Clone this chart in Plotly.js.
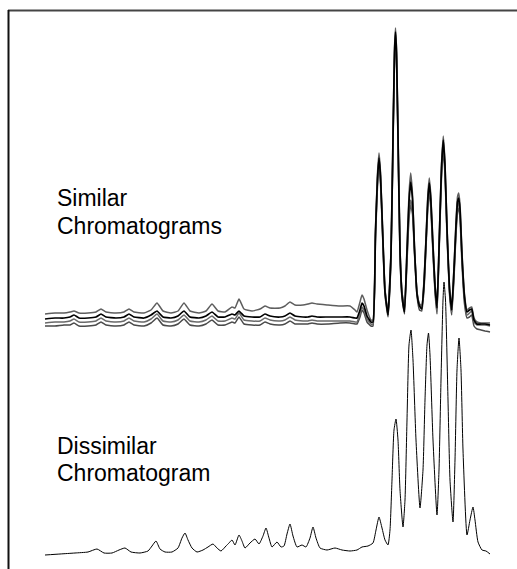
<!DOCTYPE html>
<html>
<head>
<meta charset="utf-8">
<script src="https://cdn.plot.ly/plotly-3.0.1.min.js"></script>
<style>html,body{margin:0;padding:0;background:#fff;}#chart{width:517px;height:569px;}</style>
</head>
<body>
<div id="chart"></div>
<script>
// Retention time (scan) grid shared by the four similar chromatograms
var simTime = [45,55,64,70,74,79,88,96,101,106,116,124,129,134,144,151,157,163,171,178,184,190,199,206,212,218,225,232,235,239,244,252,260,265,270,280,285,290,295,303,308,312,317,328,340,350,355,
357,360,362,364,367,371,
373,375.5,377.5,379,380.5,382.5,385,388,391,393,394.5,395.5,396.5,398,400,402,404.5,407,409,410.7,412.5,414.5,417,419.5,421.7,424,426,427.8,429.3,430.8,433,435,437,439.5,441.5,443.3,445,447,449.5,451.7,454,456,457.5,458.7,460,462,464.5,467,469.5,471.7,474,477,481,485,490];

// Detector response of the similar chromatograms (stacked, offset baseline)
var sim1 = [240,241,241,242,243,241,241,242,245,242,241,242,245,242,241,244,251,243,241,243,251,243,241,243,250,243,242,247,246,255,245,243,245,248,246,246,248,252,249,249,250,251,250,249,248,248,244,
242,252,259,255,244,234,
234,326,381,401,382,329,265,241,304,421,506,526,506,423,307,262,244,308,360,381,360,308,262,250,247,274,317,359,376,359,311,271,251,326,390,418,392,329,268,247,288,333,357,361,350,302,260,244,246,247,236,232,231,231,231];
var sim2 = [235,236,236,237,239,236,236,237,240,237,236,237,240,237,236,239,243,237,236,238,243,237,236,238,242,237,237,240,239,243,238,237,237,240,238,237,238,241,238,237,237,238,237,237,237,237,236,
236,244,251,248,238,232,
232,322,376,396,378,326,262,239,300,416,501,522,502,419,303,259,242,302,352,372,355,305,260,248,245,270,313,354,371,355,307,268,246,322,386,414,388,325,265,244,284,328,352,356,345,298,257,242,244,245,234,230,230,230,229];
var sim3 = [231,232,232,233,235,232,232,233,236,233,232,233,236,233,232,235,240,233,232,234,239,233,232,234,238,233,233,236,235,241,234,233,233,236,234,233,234,237,234,233,233,234,233,233,233,233,232,
232,240,247,244,235,230,
230,320,373,394,376,324,264,242,298,412,498,519,499,416,304,262,246,296,340,354,344,304,262,250,249,268,310,350,366,350,304,265,242,318,381,409,384,322,263,242,280,324,347,351,341,295,255,239,241,243,232,229,229,229,228];
var sim4 = [228,228,229,229,231,228,228,229,232,229,228,229,232,229,228,231,236,229,228,230,235,229,228,230,234,229,229,232,231,237,230,229,229,232,230,229,230,233,230,230,230,231,230,230,231,231,230,
230,237,244,241,232,228,
228,315,368,389,371,320,259,237,294,407,492,514,494,410,298,256,240,292,336,349,340,300,258,244,243,264,306,346,362,346,300,262,240,314,377,404,379,318,260,239,276,320,342,346,336,290,250,236,237,239,228,225,224,223,222];

// Dissimilar chromatogram
var disTime = [45,60,75,88,97,104,112,119,125,131,140,148,152,156,160,165,172,178,182,185,188,192,197,203,208,213,217,221,226,229,232,235,239,242,245,250,255,259,263,266,269,272,277,281,284,287,290,293,297,302,306,310,313,316,320,327,335,342,350,357,362,368,373,376,379,382,385,388,390,392,394,396,398,400,403,405,407,409,411,413,416,420,423,425,427,428.5,430,433,437,439,441,443,444,445.5,448,450,453,455,457,459,461,463,467,470,473,475,478,482,486,490];
var disVal = [-1,0,1,2,5,1,1,4,6,2,1,3,8,13,5,2,2,6,16,21,14,6,2,4,7,10,6,3,8,11,14,9,19,13,6,11,15,10,18,26,16,7,12,7,8,20,30,18,7,9,7,16,27,16,6,4,6,4,3,4,7,8,11,24,37,26,14,9,24,74,124,135,114,64,27,54,134,209,224,194,114,46,84,154,209,221,199,114,39,84,174,254,272,254,154,74,32,94,184,216,184,104,19,34,47,34,12,4,3,0];

var labels = ["Similar", "Chromatograms", "Dissimilar", "Chromatogram"];
var labelY = [356, 328, 108, 81];

var traces = [
  {x: disTime, y: disVal, mode: 'lines', line: {color: '#000', width: 1, shape: 'spline', smoothing: 0.5}},
  {x: simTime, y: sim4, mode: 'lines', line: {color: '#4a4a4a', width: 1.5, shape: 'spline', smoothing: 0.4}},
  {x: simTime, y: sim3, mode: 'lines', line: {color: '#6a6a6a', width: 1.5, shape: 'spline', smoothing: 0.4}},
  {x: simTime, y: sim1, mode: 'lines', line: {color: '#5e5e5e', width: 1.5, shape: 'spline', smoothing: 0.4}},
  {x: simTime, y: sim2, mode: 'lines', line: {color: '#000', width: 1.7, shape: 'spline', smoothing: 0.4}}
];

var annotations = labels.map(function(t, i){
  return {text: t, x: 55, y: labelY[i], xref: 'x', yref: 'y', xanchor: 'left', yanchor: 'middle',
          showarrow: false, font: {family: 'Liberation Sans, Arial, sans-serif', size: 23, color: '#000'}};
});

var layout = {
  width: 517, height: 569,
  margin: {l: 0, r: 0, t: 0, b: 0},
  paper_bgcolor: '#fff', plot_bgcolor: '#fff',
  showlegend: false,
  xaxis: {range: [0, 517], visible: false, fixedrange: true},
  yaxis: {range: [-15, 554], visible: false, fixedrange: true},
  annotations: annotations,
  shapes: [
    {type: 'line', xref: 'paper', yref: 'paper', x0: 8/517, x1: 1, y0: 1 - 10.5/569, y1: 1 - 10.5/569, line: {color: '#444', width: 2}},
    {type: 'line', xref: 'paper', yref: 'paper', x0: 8.5/517, x1: 8.5/517, y0: 1 - 10/569, y1: 0, line: {color: '#111', width: 2}}
  ]
};

Plotly.newPlot('chart', traces, layout, {staticPlot: true, displayModeBar: false});
</script>
</body>
</html>
